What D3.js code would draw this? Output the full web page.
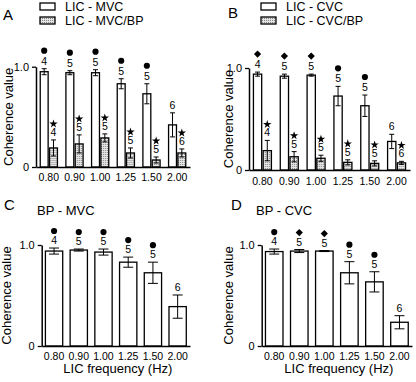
<!DOCTYPE html>
<html>
<head>
<meta charset="utf-8">
<script src="https://cdn.jsdelivr.net/npm/d3@7"></script>
<style>
  body { margin: 0; background: #fff; }
  svg { font-family: "Liberation Sans", Arial, sans-serif; }
</style>
</head>
<body>
<svg width="416" height="382"></svg>
<script>
// data
var freqLabels = ["0.80", "0.90", "1.00", "1.25", "1.50", "2.00"];
var nValues = [4, 5, 5, 5, 5, 6];

// A
var licMvc = [0.95, 0.94, 0.94, 0.83, 0.73, 0.42];
var licMvcErr = [0.03, 0.02, 0.03, 0.05, 0.10, 0.12];
var licMvcBp = [0.19, 0.23, 0.29, 0.14, 0.07, 0.14];
var licMvcBpErr = [0.08, 0.09, 0.04, 0.05, 0.03, 0.04];
var licMvcSym = ["circle", "circle", "circle", "circle", "circle", ""];

// B
var licCvc = [0.94, 0.92, 0.93, 0.725, 0.63, 0.28];
var licCvcErr = [0.02, 0.02, 0.01, 0.095, 0.105, 0.07];
var licCvcBp = [0.19, 0.13, 0.115, 0.075, 0.065, 0.07];
var licCvcBpErr = [0.10, 0.05, 0.03, 0.025, 0.025, 0.015];
var licCvcSym = ["diamond", "diamond", "diamond", "circle", "circle", ""];

var bpSym = ["star", "star", "star", "star", "star", "star"];

// C
var bpMvc = [0.94, 0.95, 0.93, 0.83, 0.725, 0.39];
var bpMvcErr = [0.03, 0.01, 0.03, 0.05, 0.105, 0.115];
var bpMvcSym = ["circle", "circle", "circle", "circle", "circle", ""];

// D
var bpCvc = [0.935, 0.94, 0.94, 0.725, 0.635, 0.235];
var bpCvcErr = [0.025, 0.015, 0.005, 0.11, 0.10, 0.065];
var bpCvcSym = ["circle", "diamond", "diamond", "circle", "circle", ""];

var svg = d3.select("svg");

// dotted grey fill
var pat = svg.append("defs").append("pattern")
    .attr("id", "dots")
    .attr("width", 2).attr("height", 2)
    .attr("patternUnits", "userSpaceOnUse");
pat.append("rect").attr("width", 2).attr("height", 2).attr("fill", "#e4e4e4");
pat.append("rect").attr("width", 1).attr("height", 1).attr("fill", "#8a8a8a");

// diamond = square turned 45deg
var symTypes = { circle: d3.symbolCircle, diamond: d3.symbolSquare, star: d3.symbolStar };
var symSizes = { circle: 30, diamond: 26, star: 22 };

function panel(p) {
    var g = svg.append("g");
    var x = d3.scaleBand().domain(freqLabels).range([p.left, p.right])
        .paddingInner(p.pad).paddingOuter(p.pad / 2);
    var y = d3.scaleLinear().domain([0, 1]).range([p.bottom, p.top]);
    var inner = d3.scaleBand().domain(d3.range(p.series.length))
        .range([0, x.bandwidth()]).paddingInner(p.series.length > 1 ? 0.15 : 0);

    p.series.forEach(function(s, si) {
        var bars = g.selectAll(null).data(s.values).enter().append("g")
            .attr("transform", function(d, i) { return "translate(" + (x(freqLabels[i]) + inner(si)) + ",0)"; });
        var w = inner.bandwidth();

        bars.append("rect")
            .attr("x", 0)
            .attr("width", w)
            .attr("y", function(d) { return y(d); })
            .attr("height", function(d) { return y(0) - y(d); })
            .attr("fill", s.fill)
            .attr("stroke", "#000")
            .attr("stroke-width", 1.3);

        // error bars (mean +/- err)
        bars.append("line")
            .attr("x1", w / 2).attr("x2", w / 2)
            .attr("y1", function(d, i) { return y(d + s.errs[i]); })
            .attr("y2", function(d, i) { return y(d - s.errs[i]); })
            .attr("stroke", "#000").attr("stroke-width", 1);
        bars.each(function(d, i) {
            var b = d3.select(this);
            [d + s.errs[i], d - s.errs[i]].forEach(function(v) {
                b.append("line")
                    .attr("x1", w / 2 - p.cap).attr("x2", w / 2 + p.cap)
                    .attr("y1", y(v)).attr("y2", y(v))
                    .attr("stroke", "#000").attr("stroke-width", 1);
            });
        });

        // n and significance marks
        bars.append("text")
            .attr("x", w / 2)
            .attr("y", function(d, i) { return y(d + s.errs[i]) - 4; })
            .attr("text-anchor", "middle")
            .attr("font-size", 10.5)
            .text(function(d, i) { return nValues[i]; });

        bars.filter(function(d, i) { return s.syms[i]; })
            .append("path")
            .attr("transform", function(d, i) {
                var t = "translate(" + (w / 2) + "," + (y(d + s.errs[i]) - 4 - s.symOff) + ")";
                return s.syms[i] === "diamond" ? t + " rotate(45)" : t;
            })
            .attr("d", function(d, i) {
                var t = s.syms[i];
                return d3.symbol().type(symTypes[t]).size(symSizes[t])();
            })
            .attr("fill", "#000");
    });

    // axes
    var ya = g.append("g")
        .attr("transform", "translate(" + p.left + ",0)")
        .call(d3.axisLeft(y).tickValues([0, 1]).tickSize(4).tickSizeOuter(0)
            .tickFormat(function(d) { return d ? "1.0" : "0"; }));
    ya.select(".domain").attr("stroke-width", 1.5);
    ya.selectAll(".tick line").attr("stroke-width", 1.3);
    ya.selectAll("text").attr("font-size", 11).attr("font-family", "Liberation Sans, Arial, sans-serif").attr("fill", "#000");

    var xa = g.append("g")
        .attr("transform", "translate(0," + p.bottom + ")")
        .call(d3.axisBottom(x).tickSize(0).tickPadding(p.tickPad));
    xa.select(".domain").attr("stroke-width", 1.5);
    xa.selectAll("text").attr("font-size", 10.5).attr("font-family", "Liberation Sans, Arial, sans-serif").attr("fill", "#000");

    g.append("text")
        .attr("transform", "translate(" + p.ylabX + "," + ((p.top + p.bottom) / 2) + ") rotate(-90)")
        .attr("text-anchor", "middle")
        .attr("font-size", 13)
        .text("Coherence value");

    g.append("text")
        .attr("x", p.letterX).attr("y", p.letterY)
        .attr("font-size", 15)
        .text(p.letter);

    if (p.xlabel) {
        g.append("text")
            .attr("x", (p.left + p.right) / 2 + 2).attr("y", p.bottom + 27)
            .attr("text-anchor", "middle")
            .attr("font-size", 13)
            .text("LIC frequency (Hz)");
    }
    if (p.title) {
        g.append("text")
            .attr("x", p.titleX).attr("y", p.letterY + 5)
            .attr("font-size", 13)
            .text(p.title);
    }
    if (p.legend) {
        p.legend.forEach(function(l, i) {
            g.append("rect")
                .attr("x", p.legX).attr("y", 3 + i * 14)
                .attr("width", 15).attr("height", 7)
                .attr("fill", l.fill).attr("stroke", "#000").attr("stroke-width", 1.3);
            g.append("text")
                .attr("x", p.legX + 25).attr("y", 11 + i * 14)
                .attr("font-size", 12.5)
                .text(l.name);
        });
    }
}

panel({
    letter: "A", letterX: 3, letterY: 20,
    left: 36, right: 190, top: 66.7, bottom: 167, pad: 0.33, cap: 2.5, tickPad: 7, ylabX: 13,
    series: [
        { values: licMvc, errs: licMvcErr, syms: licMvcSym, fill: "#fff", symOff: 14 },
        { values: licMvcBp, errs: licMvcBpErr, syms: bpSym, fill: "url(#dots)", symOff: 12 }
    ],
    legX: 40, legend: [{ name: "LIC - MVC", fill: "#fff" }, { name: "LIC - MVC/BP", fill: "url(#dots)" }]
});

panel({
    letter: "B", letterX: 228, letterY: 18,
    left: 249, right: 410, top: 68, bottom: 170, pad: 0.33, cap: 2.5, tickPad: 8, ylabX: 233,
    series: [
        { values: licCvc, errs: licCvcErr, syms: licCvcSym, fill: "#fff", symOff: 14 },
        { values: licCvcBp, errs: licCvcBpErr, syms: bpSym, fill: "url(#dots)", symOff: 12 }
    ],
    legX: 261, legend: [{ name: "LIC - CVC", fill: "#fff" }, { name: "LIC - CVC/BP", fill: "url(#dots)" }]
});

panel({
    letter: "C", letterX: 4, letterY: 210, title: "BP - MVC", titleX: 37,
    left: 41.7, right: 190, top: 245, bottom: 346, pad: 0.3, cap: 5, tickPad: 7, ylabX: 11, xlabel: true,
    series: [{ values: bpMvc, errs: bpMvcErr, syms: bpMvcSym, fill: "#fff", symOff: 13 }]
});

panel({
    letter: "D", letterX: 231, letterY: 210, title: "BP - CVC", titleX: 256,
    left: 261.7, right: 412, top: 245, bottom: 346, pad: 0.3, cap: 5, tickPad: 7, ylabX: 233, xlabel: true,
    series: [{ values: bpCvc, errs: bpCvcErr, syms: bpCvcSym, fill: "#fff", symOff: 13 }]
});
</script>
</body>
</html>
